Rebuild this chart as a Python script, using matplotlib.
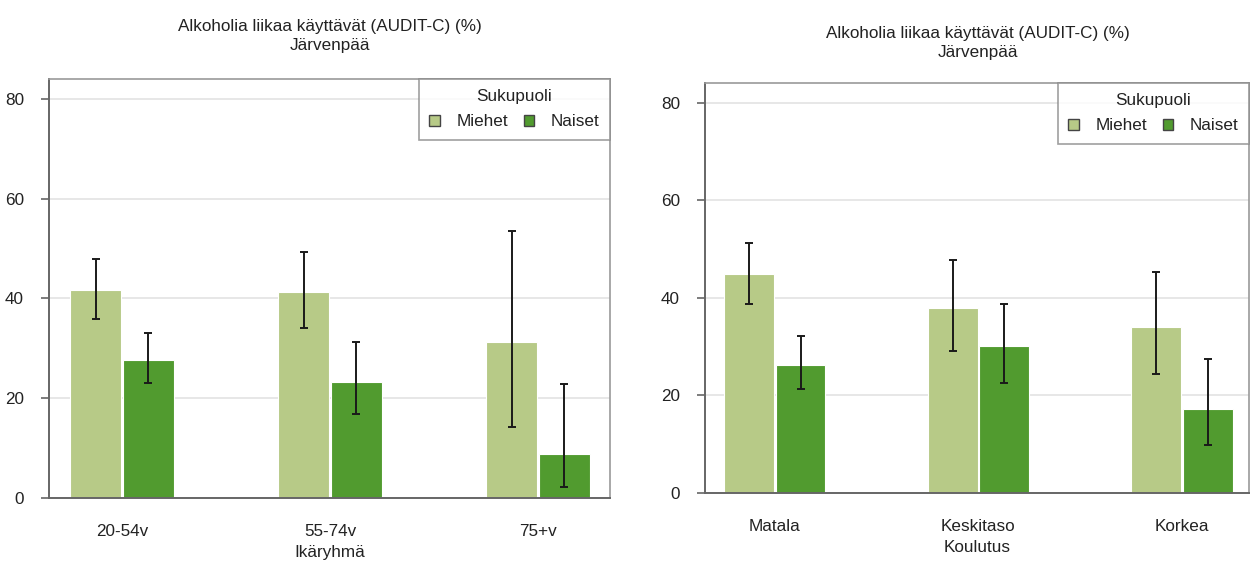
import matplotlib
matplotlib.use("Agg")
import matplotlib.pyplot as plt
from matplotlib.patches import Patch
import numpy as np

plt.rcParams['font.family'] = ['Liberation Sans', 'DejaVu Sans']

title_line1 = "Alkoholia liikaa käyttävät (AUDIT-C) (%)"
title_line2 = "Järvenpää"
series_names = ["Miehet", "Naiset"]
legend_title = "Sukupuoli"

# Left panel: age groups
age_groups = ["20-54v", "55-74v", "75+v"]
age_xlabel = "Ikäryhmä"
age_miehet = [41.6, 41.3, 31.3]
age_miehet_lo = [35.8, 34.0, 14.2]
age_miehet_hi = [47.9, 49.3, 53.5]
age_naiset = [27.7, 23.3, 8.8]
age_naiset_lo = [23.0, 16.9, 2.2]
age_naiset_hi = [33.1, 31.2, 22.9]

# Right panel: education
edu_groups = ["Matala", "Keskitaso", "Korkea"]
edu_xlabel = "Koulutus"
edu_miehet = [44.8, 37.9, 34.1]
edu_miehet_lo = [38.7, 29.1, 24.3]
edu_miehet_hi = [51.2, 47.7, 45.3]
edu_naiset = [26.2, 30.1, 17.2]
edu_naiset_lo = [21.3, 22.6, 9.8]
edu_naiset_hi = [32.1, 38.8, 27.5]

yticks = [0, 20, 40, 60, 80]

c_m = "#b7ca87"
c_n = "#519b2f"
spine_col = "#666666"
box_col = "#999999"
grid_col = "#e3e3e3"
txt_col = "#222222"
FS = 12.3

fig = plt.figure(figsize=(12.5, 5.63), dpi=100)
W, H = 1250, 563

def px_axes(x0, x1, ytop, ybot):
    return fig.add_axes([x0 / W, 1 - ybot / H, (x1 - x0) / W, (ybot - ytop) / H])

def draw(ax, groups, xlabel, m, mlo, mhi, n, nlo, nhi, xlim, cx, ty1, ty2, legbox):
    x = np.arange(len(groups))
    bw = 0.245
    ax.bar(x - bw / 2 - 0.004, m, bw, color=c_m, edgecolor="white", linewidth=0.8, zorder=2)
    ax.bar(x + bw / 2 + 0.004, n, bw, color=c_n, edgecolor="white", linewidth=0.8, zorder=2)
    m = np.array(m); n = np.array(n)
    ax.errorbar(x - bw / 2 - 0.004, m, yerr=[m - np.array(mlo), np.array(mhi) - m],
                fmt="none", ecolor="#1a1a1a", elinewidth=1.4, capsize=3, capthick=1.4, zorder=3)
    ax.errorbar(x + bw / 2 + 0.004, n, yerr=[n - np.array(nlo), np.array(nhi) - n],
                fmt="none", ecolor="#1a1a1a", elinewidth=1.4, capsize=3, capthick=1.4, zorder=3)
    ax.set_xlim(*xlim)
    ax.set_ylim(0, 84)
    ax.set_yticks(yticks)
    ax.set_yticklabels([str(v) for v in yticks], fontsize=FS, color=txt_col)
    ax.yaxis.grid(True, color=grid_col, linewidth=1.2, zorder=0)
    ax.set_axisbelow(True)
    ax.set_xticks(x)
    ax.set_xticklabels(groups, fontsize=FS, color=txt_col)
    ax.tick_params(axis="x", length=0, pad=19)
    ax.tick_params(axis="y", length=6, width=1.2, color=spine_col, pad=12)
    ax.set_xlabel(xlabel, fontsize=FS, color=txt_col, labelpad=4)
    for s in ["left", "bottom"]:
        ax.spines[s].set_color(spine_col)
        ax.spines[s].set_linewidth(1.4)
    for s in ["top", "right"]:
        ax.spines[s].set_color(box_col)
        ax.spines[s].set_linewidth(1.2)
    fig.text(cx / W, 1 - ty1 / H, title_line1, ha="center", va="baseline", fontsize=FS, color=txt_col)
    fig.text(cx / W, 1 - ty2 / H, title_line2, ha="center", va="baseline", fontsize=FS, color=txt_col)
    handles = [Patch(facecolor=c_m, edgecolor="#444444", linewidth=1.0),
               Patch(facecolor=c_n, edgecolor="#444444", linewidth=1.0)]
    leg = ax.legend(handles, series_names, title=legend_title, ncol=2, loc="upper right",
                    bbox_to_anchor=legbox, bbox_transform=fig.transFigure,
                    fontsize=FS, title_fontsize=FS, frameon=True, fancybox=False,
                    handlelength=0.6, handleheight=0.6, handletextpad=1.0, columnspacing=0.9,
                    borderpad=0.6, labelspacing=0.6, borderaxespad=0)
    leg.get_frame().set_edgecolor("#888888")
    leg.get_frame().set_linewidth(1.2)
    leg.get_title().set_color(txt_col)
    for t in leg.get_texts():
        t.set_color(txt_col)

ax1 = px_axes(49, 610, 79, 498)
draw(ax1, age_groups, age_xlabel, age_miehet, age_miehet_lo, age_miehet_hi,
     age_naiset, age_naiset_lo, age_naiset_hi, (-0.351, 2.346), 330, 31, 50,
     (610 / W, 1 - 79 / H))

ax2 = px_axes(705, 1249, 83, 493)
draw(ax2, edu_groups, edu_xlabel, edu_miehet, edu_miehet_lo, edu_miehet_hi,
     edu_naiset, edu_naiset_lo, edu_naiset_hi, (-0.343, 2.33), 978, 38, 57,
     (1249 / W, 1 - 83 / H))

fig.savefig("out.png", dpi=100)
